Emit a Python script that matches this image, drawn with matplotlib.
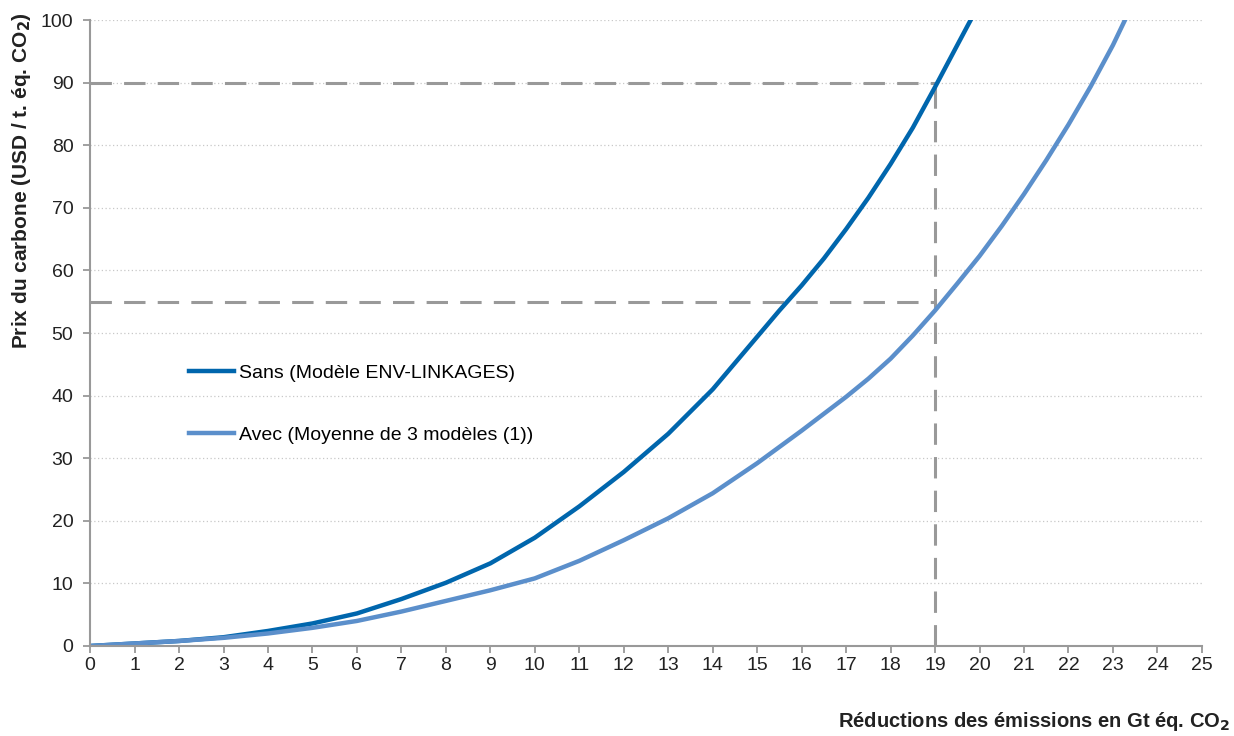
import numpy as np
import matplotlib.pyplot as plt

plt.rcParams['font.family'] = ['Liberation Sans', 'DejaVu Sans']

# Réductions (Gt éq. CO2) et prix du carbone (USD / t. éq. CO2)
x_sans = [0, 1, 2, 3, 4, 5, 6, 7, 8, 9, 10, 11, 12, 13, 14, 15, 15.5, 16, 16.5,
          17, 17.5, 18, 18.5, 19, 19.5, 19.8]
y_sans = [0, 0.4, 0.8, 1.4, 2.4, 3.6, 5.2, 7.5, 10.1, 13.2, 17.3, 22.3, 27.8, 33.9, 41.0, 49.4, 53.6, 57.6, 61.9,
          66.6, 71.6, 77.0, 82.8, 89.3, 96.0, 100]

x_avec = [0, 1, 2, 3, 4, 5, 6, 7, 8, 9, 10, 11, 12, 13, 14, 15, 16, 17, 17.5, 18, 18.5,
          19, 19.5, 20, 20.5, 21, 21.5, 22, 22.5, 23, 23.27]
y_avec = [0, 0.4, 0.8, 1.3, 2.0, 2.9, 4.0, 5.5, 7.2, 8.9, 10.8, 13.6, 16.9, 20.4, 24.4, 29.2, 34.4, 39.8, 42.7, 45.9, 49.6,
          53.6, 57.9, 62.3, 67.1, 72.2, 77.6, 83.3, 89.4, 96.0, 100]

# repères en pointillés
x_mark = 19
y_marks = [90, 55]

fig = plt.figure(figsize=(12.34, 7.36), dpi=100)
ax = fig.add_axes([0.073, 0.1223, 0.901, 0.8505])

grey = '#999999'
ax.grid(axis='y', linestyle=(0, (1, 2)), color='#c8c8c8', linewidth=0.9)
ax.set_axisbelow(True)

for ym in y_marks:
    ax.plot([0, x_mark], [ym, ym], color=grey, linewidth=2.2, dashes=(7, 4))
ax.plot([x_mark, x_mark], [0, max(y_marks)], color=grey, linewidth=2.2, dashes=(7, 4))

l1, = ax.plot(x_sans, y_sans, color='#0066ad', linewidth=3.2, solid_joinstyle='round',
              label='Sans (Modèle ENV-LINKAGES)')
l2, = ax.plot(x_avec, y_avec, color='#5b8fcb', linewidth=3.2, solid_joinstyle='round',
              label='Avec (Moyenne de 3 modèles (1))')

ax.set_xlim(0, 25)
ax.set_ylim(0, 100)
ax.set_xticks(range(0, 26))
ax.set_yticks(range(0, 101, 10))
ax.tick_params(axis='both', colors=grey, labelcolor='#222222', labelsize=14,
               length=5, width=1.3, direction='out')
ax.tick_params(axis='y', pad=7)
ax.tick_params(axis='x', pad=3)

for s in ['top', 'right']:
    ax.spines[s].set_visible(False)
for s in ['left', 'bottom']:
    ax.spines[s].set_color(grey)
    ax.spines[s].set_linewidth(1.5)

ax.set_ylabel('Prix du carbone (USD / t. éq. CO$_\\mathbf{2}$)', fontsize=15,
              fontweight='bold', color='#222222')
ax.yaxis.set_label_coords(-0.051, 0.743)
fig.text(0.997, 0.004, 'Réductions des émissions en Gt éq. CO$_\\mathbf{2}$', ha='right',
         va='bottom', fontsize=14.5, fontweight='bold', color='#222222')

leg = ax.legend(handles=[l1, l2], loc='upper left', bbox_to_anchor=(0.082, 0.462),
                frameon=False, fontsize=14, handlelength=2.3, handletextpad=0.25,
                labelspacing=2.26, borderaxespad=0)

plt.savefig('out.png', dpi=100)
